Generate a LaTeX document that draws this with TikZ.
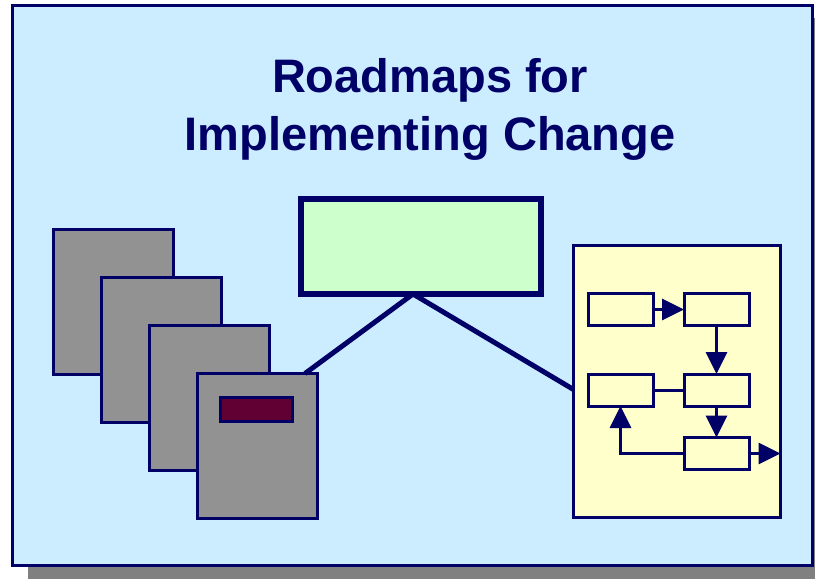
\documentclass[tikz,border=0pt]{standalone}
\usepackage{fontspec}
\newfontfamily\titlefont{Liberation Sans}
\usetikzlibrary{arrows.meta}

\definecolor{navy}{HTML}{000066}
\definecolor{boardblue}{HTML}{CCECFF}
\definecolor{mint}{HTML}{CCFFCC}
\definecolor{pagegray}{HTML}{929292}
\definecolor{cream}{HTML}{FFFFCC}
\definecolor{wine}{HTML}{600033}
\definecolor{shadowgray}{HTML}{808080}

\tikzset{
  box/.style={draw=navy, rectangle, inner sep=0pt, outer sep=0pt},
  page/.style={box, fill=pagegray, line width=3pt, minimum width=120pt, minimum height=145pt},
  step box/.style={box, fill=cream, line width=3pt, minimum width=65pt, minimum height=32pt},
  flow/.style={navy, line width=3pt, -{Triangle[length=22pt,width=21pt]}},
  link/.style={navy, line width=3pt},
  tie/.style={navy, line width=5pt},
  title/.style={text=navy, font=\titlefont\bfseries\fontsize{47}{56}\selectfont, anchor=base}
}

\begin{document}
\begin{tikzpicture}[x=1pt, y=-1pt]

\useasboundingbox (0,0) rectangle (815,579);
\clip (0,0) rectangle (815,579);

% Board and its shadow
\fill[shadowgray] (28,18) rectangle (830,590);
\node[box, fill=boardblue, line width=3pt, minimum width=800pt, minimum height=560pt] (board) at (412.5,285.5) {};

% Title
\node[title] (t1) at (430,92) {Roadmaps for};
\node[title] (t2) at (430,150) {Implementing Change};

% Green box
\node[box, fill=mint, line width=6pt, minimum width=240pt, minimum height=95pt] (green) at (421,246.5) {};
\coordinate (apex) at ([xshift=-8pt]green.south);

% Stack of pages
\node[page] (p1) at (113,302) {};
\node[page] (p2) at (161,350) {};
\node[page] (p3) at (209,398) {};
\node[page] (p4) at (257,446) {};
\node[box, fill=wine, line width=3pt, minimum width=72pt, minimum height=24pt] (label) at (256.5,409.5) {};

% Flow chart panel
\node[box, fill=cream, line width=3pt, minimum width=207pt, minimum height=272pt] (panel) at (677,381.5) {};
\node[step box] (s1) at (620.5,309.5) {};
\node[step box] (s2) at (716.5,309.5) {};
\node[step box] (s3) at (620.5,390) {};
\node[step box] (s4) at (716.5,390) {};
\node[step box] (s5) at (716.5,453.5) {};

\draw[flow] (s1) -- (s2);
\draw[flow] (s2) -- (s4);
\draw[link] (s3) -- (s4);
\draw[flow] (s4) -- (s5);
\draw[flow] (s5.west) -| (s3.south);
\draw[flow] (s5.east) -- (s5 -| panel.east);

% Ties from the green box
\draw[tie] (apex) -- ([xshift=-12pt]p4.north east);
\draw[tie] (apex) -- ([yshift=-8pt]panel.west);

\end{tikzpicture}
\end{document}
